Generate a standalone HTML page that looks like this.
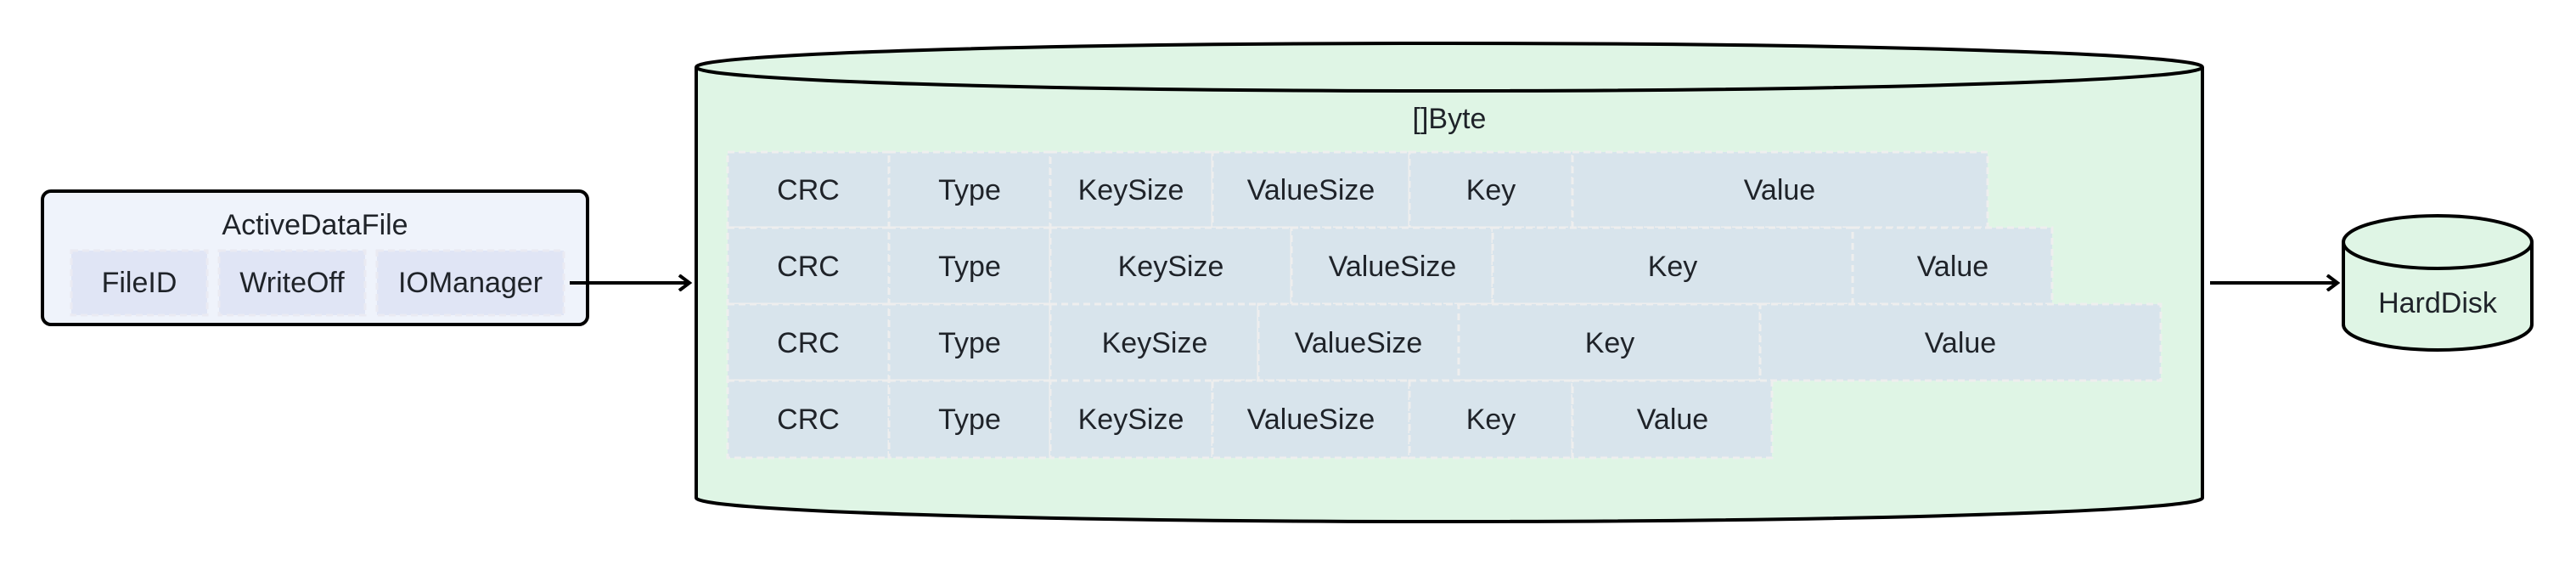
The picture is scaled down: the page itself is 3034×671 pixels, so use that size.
<!DOCTYPE html>
<html><head><meta charset="utf-8"><style>
html,body{margin:0;padding:0;background:#fff;}
svg text{font-family:"Liberation Sans",sans-serif;fill:#1f2329;font-size:34px;}
</style></head><body>
<svg width="3034" height="666" viewBox="0 0 3034 666" xmlns="http://www.w3.org/2000/svg">
<defs>
<marker id="ah" markerWidth="20" markerHeight="20" refX="16" refY="10" orient="auto" markerUnits="userSpaceOnUse">
<path d="M4,1 L16,10 L4,19" fill="none" stroke="#000" stroke-width="4"/>
</marker>
</defs>
<!-- ActiveDataFile -->
<rect x="50" y="225" width="642" height="157" rx="10" fill="#eff3fb" stroke="#000" stroke-width="4"/>
<text x="371" y="267" text-anchor="middle" dominant-baseline="middle">ActiveDataFile</text>
<g fill="#e0e5f5" stroke="#eaeaf2" stroke-width="3" stroke-dasharray="8,5">
<rect x="84" y="295" width="160" height="76"/>
<rect x="258" y="295" width="172" height="76"/>
<rect x="444" y="295" width="220" height="76"/>
</g>
<text x="164" y="335" text-anchor="middle" dominant-baseline="middle">FileID</text>
<text x="344" y="335" text-anchor="middle" dominant-baseline="middle">WriteOff</text>
<text x="554" y="335" text-anchor="middle" dominant-baseline="middle">IOManager</text>
<line x1="671" y1="333" x2="812" y2="333" stroke="#000" stroke-width="4" marker-end="url(#ah)"/>
<!-- big cylinder -->
<path d="M820,79 L820,586 A887,28 0 0 0 2594,586 L2594,79" fill="#dff5e5" stroke="#000" stroke-width="4"/>
<ellipse cx="1707" cy="79" rx="887" ry="28" fill="#dff5e5" stroke="#000" stroke-width="4"/>
<text x="1707" y="142" text-anchor="middle" dominant-baseline="middle">[]Byte</text>
<g fill="#d8e4ec" stroke="#eeeeee" stroke-width="3" stroke-dasharray="8,5">
<rect x="857" y="179" width="190" height="89"/><rect x="1047" y="179" width="190" height="89"/><rect x="1237" y="179" width="191" height="89"/><rect x="1428" y="179" width="232" height="89"/><rect x="1660" y="179" width="192" height="89"/><rect x="1852" y="179" width="489" height="89"/>
<rect x="857" y="268" width="190" height="90"/><rect x="1047" y="268" width="190" height="90"/><rect x="1237" y="268" width="284" height="90"/><rect x="1521" y="268" width="237" height="90"/><rect x="1758" y="268" width="424" height="90"/><rect x="2182" y="268" width="235" height="90"/>
<rect x="857" y="358" width="190" height="90"/><rect x="1047" y="358" width="190" height="90"/><rect x="1237" y="358" width="245" height="90"/><rect x="1482" y="358" width="236" height="90"/><rect x="1718" y="358" width="355" height="90"/><rect x="2073" y="358" width="472" height="90"/>
<rect x="857" y="448" width="190" height="91"/><rect x="1047" y="448" width="190" height="91"/><rect x="1237" y="448" width="191" height="91"/><rect x="1428" y="448" width="232" height="91"/><rect x="1660" y="448" width="192" height="91"/><rect x="1852" y="448" width="235" height="91"/>
</g>
<g text-anchor="middle" dominant-baseline="middle">
<text x="952" y="226">CRC</text><text x="1142" y="226">Type</text><text x="1332" y="226">KeySize</text><text x="1544" y="226">ValueSize</text><text x="1756" y="226">Key</text><text x="2096" y="226">Value</text>
<text x="952" y="316">CRC</text><text x="1142" y="316">Type</text><text x="1379" y="316">KeySize</text><text x="1640" y="316">ValueSize</text><text x="1970" y="316">Key</text><text x="2300" y="316">Value</text>
<text x="952" y="406">CRC</text><text x="1142" y="406">Type</text><text x="1360" y="406">KeySize</text><text x="1600" y="406">ValueSize</text><text x="1896" y="406">Key</text><text x="2309" y="406">Value</text>
<text x="952" y="496">CRC</text><text x="1142" y="496">Type</text><text x="1332" y="496">KeySize</text><text x="1544" y="496">ValueSize</text><text x="1756" y="496">Key</text><text x="1970" y="496">Value</text>
</g>
<line x1="2603" y1="333" x2="2753" y2="333" stroke="#000" stroke-width="4" marker-end="url(#ah)"/>
<!-- HardDisk -->
<path d="M2760,285 L2760,382 A111,30 0 0 0 2982,382 L2982,285" fill="#dff5e5" stroke="#000" stroke-width="4"/>
<ellipse cx="2871" cy="285" rx="111" ry="31" fill="#dff5e5" stroke="#000" stroke-width="4"/>
<text x="2871" y="359" text-anchor="middle" dominant-baseline="middle">HardDisk</text>
</svg>
</body></html>
